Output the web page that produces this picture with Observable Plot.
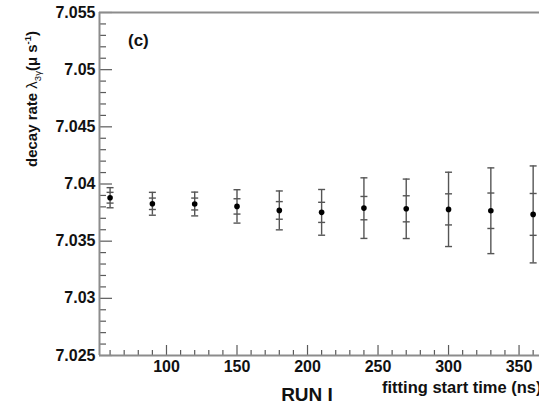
<!DOCTYPE html>
<html><head><meta charset="utf-8">
<script src="https://cdn.jsdelivr.net/npm/d3@7"></script>
<script src="https://cdn.jsdelivr.net/npm/@observablehq/plot@0.6"></script>
<style>
html,body{margin:0;padding:0;background:#fff;overflow:hidden;width:539px;height:401px}
#chart svg{display:block;overflow:hidden}
</style>
</head><body><div id="chart"></div>
<script>
// fitting start time (ns)
const startTimes = [60, 90, 120, 150, 180, 210, 240, 270, 300, 330, 360];
// decay rate lambda_3gamma (us^-1)
const decayRate = [7.03880, 7.03827, 7.03825, 7.03804, 7.03769, 7.03752, 7.03789, 7.03783, 7.03778, 7.03766, 7.03734];
const statError = [0.00047, 0.00050, 0.00052, 0.00067, 0.00077, 0.00088, 0.00102, 0.00114, 0.00136, 0.00155, 0.00183];
const totalError = [0.00088, 0.00100, 0.00104, 0.00146, 0.00170, 0.00200, 0.00265, 0.00260, 0.00325, 0.00375, 0.00424];

const xDomain = [52.5, 364.5];
const yDomain = [7.025, 7.055];
const xTicks = [100, 150, 200, 250, 300, 350];
const xTickLabels = ["100", "150", "200", "250", "300", "350"];
const xMinorTicks = [60, 70, 80, 90, 110, 120, 130, 140, 160, 170, 180, 190, 210, 220, 230, 240, 260, 270, 280, 290, 310, 320, 330, 340, 360];
const yTicks = [7.025, 7.03, 7.035, 7.04, 7.045, 7.05, 7.055];
const yTickLabels = ["7.025", "7.03", "7.035", "7.04", "7.045", "7.05", "7.055"];
const yMinorTicks = [7.026, 7.027, 7.028, 7.029, 7.031, 7.032, 7.033, 7.034, 7.036, 7.037, 7.038, 7.039,
  7.041, 7.042, 7.043, 7.044, 7.046, 7.047, 7.048, 7.049, 7.051, 7.052, 7.053, 7.054];

const W = 539, H = 401, mL = 99, mR = 0, mT = 12, mB = 46;
const pw = W - mL - mR, ph = H - mT - mB;

const data = startTimes.map((t, i) => ({t, v: decayRate[i], s: statError[i], e: totalError[i]}));
const caps = data.flatMap(d => [
  {t: d.t, y: d.v - d.e}, {t: d.t, y: d.v + d.e},
  {t: d.t, y: d.v - d.s}, {t: d.t, y: d.v + d.s}
]);
const capSymbol = {draw(ctx) { ctx.moveTo(-3.5, 0); ctx.lineTo(3.5, 0); }};

const font = "'Liberation Sans', Arial, Helvetica, sans-serif";
const axisGray = "#8c8c8c";
const tickGray = "#5a5a5a";

const chart = Plot.plot({
  width: W, height: H,
  marginLeft: mL, marginRight: mR, marginTop: mT, marginBottom: mB,
  style: {fontFamily: font, background: "#fff"},
  x: {domain: xDomain},
  y: {domain: yDomain},
  marks: [
    Plot.ruleY(yMinorTicks, {stroke: tickGray, strokeWidth: 1.2, insetRight: pw - 7}),
    Plot.ruleY(yTicks, {stroke: tickGray, strokeWidth: 1.2, insetRight: pw - 13}),
    Plot.ruleX(xMinorTicks, {stroke: tickGray, strokeWidth: 1.2, insetTop: ph - 5}),
    Plot.ruleX(xTicks, {stroke: tickGray, strokeWidth: 1.2, insetTop: ph - 10}),
    Plot.ruleX([xDomain[0]], {stroke: axisGray, strokeWidth: 2}),
    Plot.ruleY([yDomain[0]], {stroke: axisGray, strokeWidth: 2}),
    Plot.ruleY([yDomain[1]], {stroke: axisGray, strokeWidth: 2}),
    Plot.ruleX(data, {x: "t", y1: d => d.v - d.e, y2: d => d.v + d.e, stroke: "#555", strokeWidth: 1.4}),
    Plot.dot(caps, {x: "t", y: "y", symbol: capSymbol, stroke: "#555", strokeWidth: 1.4, fill: "none"}),
    Plot.dot(data, {x: "t", y: "v", r: 2.8, fill: "#000", stroke: "none"}),
    Plot.axisY(yTicks, {tickSize: 0, tickPadding: 4, fontSize: 16, fontWeight: "bold", fill: "#111",
      tickFormat: d => yTickLabels[yTicks.indexOf(d)], label: null}),
    Plot.axisX(xTicks, {tickSize: 0, tickPadding: 5, fontSize: 16, fontWeight: "bold", fill: "#111",
      tickFormat: d => xTickLabels[xTicks.indexOf(d)], label: null})
  ]
});

document.getElementById("chart").appendChild(chart);

const svg = d3.select(chart);
svg.append("text").attr("x", 128).attr("y", 46).attr("text-anchor", "start")
  .attr("font-family", font).attr("font-size", 17).attr("font-weight", "bold").attr("fill", "#111")
  .text("(c)");
svg.append("text").attr("x", 307).attr("y", 401).attr("text-anchor", "middle")
  .attr("font-family", font).attr("font-size", 19).attr("font-weight", "bold").attr("fill", "#111")
  .text("RUN I");
svg.append("text").attr("x", 382).attr("y", 393).attr("text-anchor", "start")
  .attr("font-family", font).attr("font-size", 16.5).attr("font-weight", "bold").attr("fill", "#111")
  .text("fitting start time (ns)");

const yl = svg.append("text")
  .attr("transform", "translate(37,99) rotate(-90)")
  .attr("text-anchor", "middle")
  .attr("font-family", font).attr("font-size", 15).attr("font-weight", "bold").attr("fill", "#111");
yl.append("tspan").text("decay rate ");
yl.append("tspan").attr("font-weight", "normal").text("λ");
yl.append("tspan").attr("font-size", 9.5).attr("font-weight", "normal").attr("dy", 4).text("3γ");
yl.append("tspan").attr("dy", -4).text("(μ s");
yl.append("tspan").attr("font-size", 9.5).attr("dy", -6).text("-1");
yl.append("tspan").attr("dy", 6).text(")");
</script>
</body></html>
